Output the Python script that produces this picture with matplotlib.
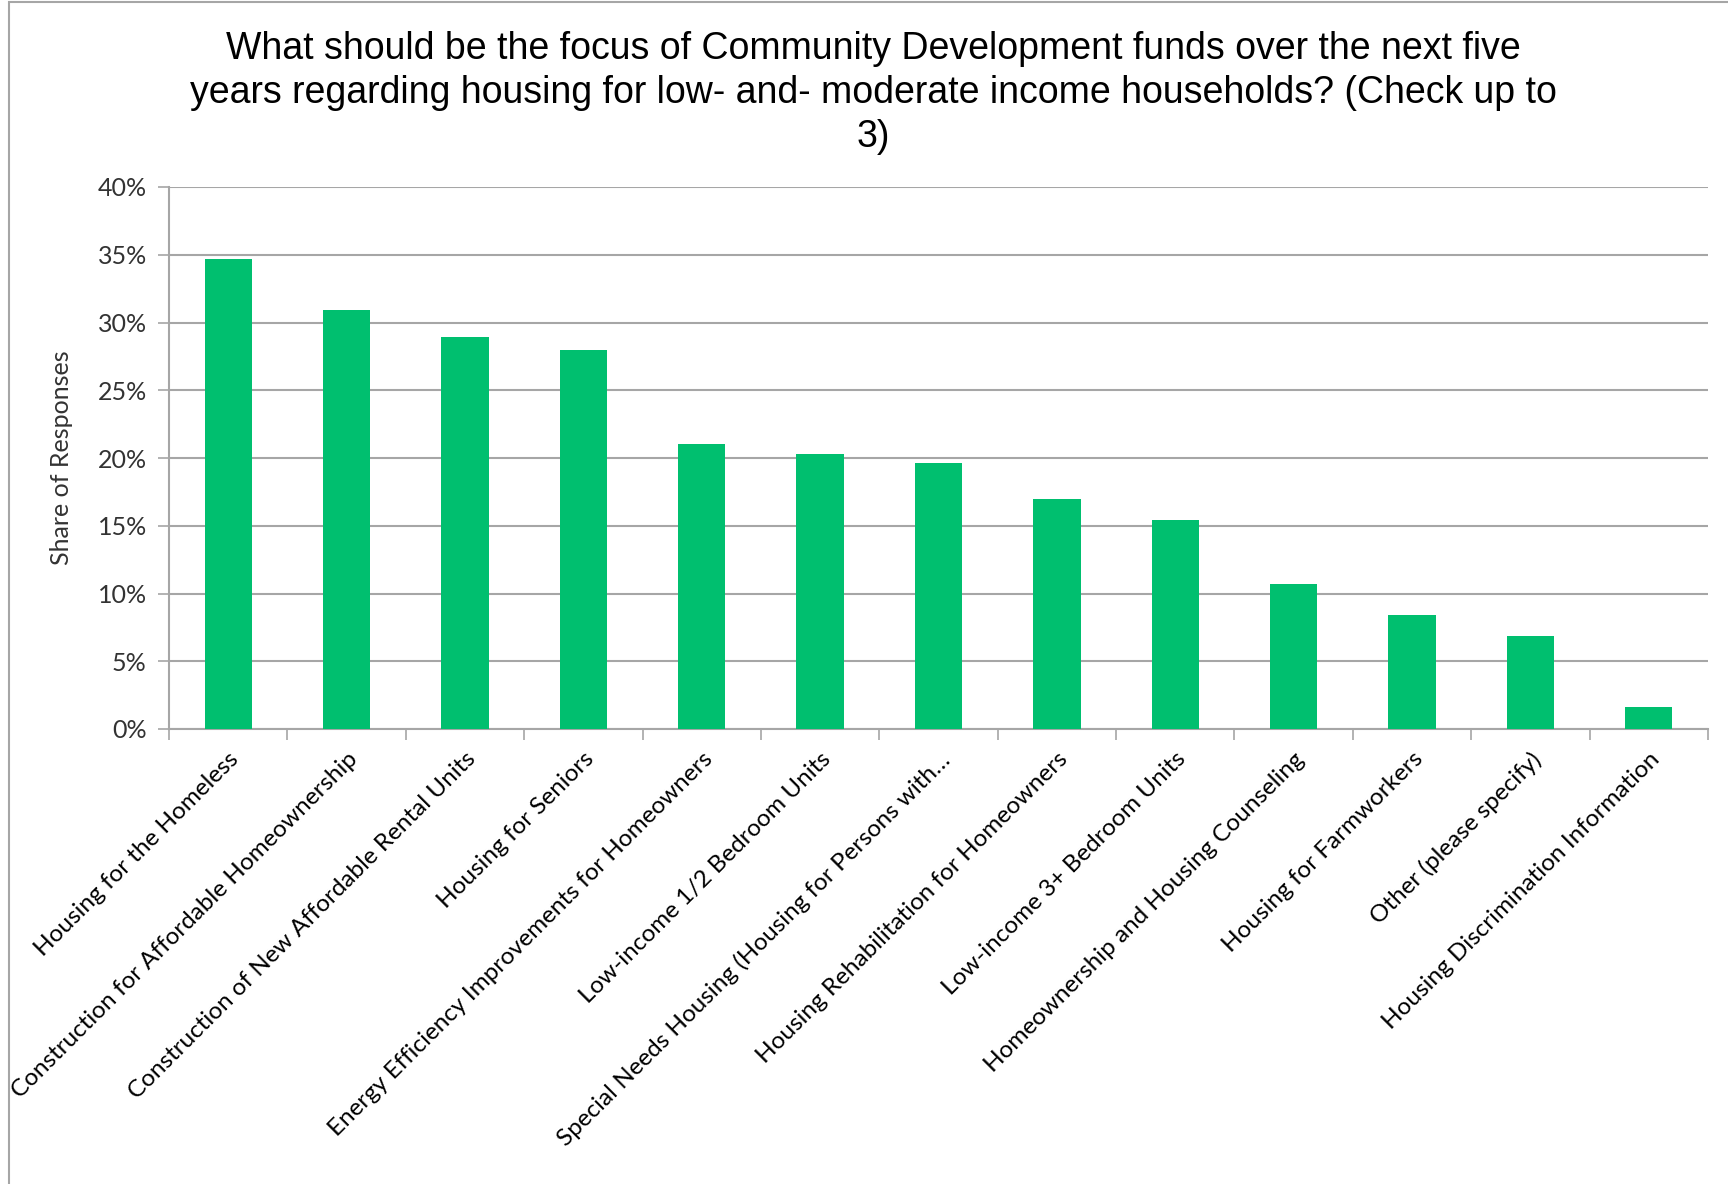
import numpy as np
import matplotlib
matplotlib.use('Agg')
import matplotlib.pyplot as plt
from matplotlib.ticker import PercentFormatter, MultipleLocator, FixedLocator
from matplotlib.patches import Rectangle

# categories and share of responses (%)
categories = [
    "Housing for the Homeless",
    "Construction for Affordable Homeownership",
    "Construction of New Affordable Rental Units",
    "Housing for Seniors",
    "Energy Efficiency Improvements for Homeowners",
    "Low-income 1/2 Bedroom Units",
    "Special Needs Housing (Housing for Persons with\u2026",
    "Housing Rehabilitation for Homeowners",
    "Low-income 3+ Bedroom Units",
    "Homeownership and Housing Counseling",
    "Housing for Farmworkers",
    "Other (please specify)",
    "Housing Discrimination Information",
]
shares = [34.7, 30.9, 28.9, 28.0, 21.0, 20.3, 19.6, 17.0, 15.4, 10.7, 8.4, 6.9, 1.6]

title = ("What should be the focus of Community Development funds over the next five\n"
         "years regarding housing for low- and- moderate income households? (Check up to\n"
         "3)")

W, H = 1728, 1184
fig = plt.figure(figsize=(W / 100, H / 100), dpi=100)
ax = fig.add_axes([169 / W, 1 - 729 / H, (1708 - 169) / W, (729 - 187) / H])

x = np.arange(len(categories))
ax.bar(x, shares, width=0.4, color='#00BF6F', zorder=3)

ax.set_xlim(-0.5, len(categories) - 0.5)
ax.set_ylim(0, 40)
ax.yaxis.set_major_locator(MultipleLocator(5))
ax.yaxis.set_major_formatter(PercentFormatter(decimals=0))
ax.grid(axis='y', color='#A6A6A6', linewidth=1.5, zorder=0)

# tick marks sit between categories, labels at bar centres
ax.xaxis.set_major_locator(FixedLocator(np.arange(len(categories) + 1) - 0.5))
ax.xaxis.set_major_formatter(plt.NullFormatter())
ax.xaxis.set_minor_locator(FixedLocator(x))
ax.set_xticklabels(categories, minor=True, rotation=45, ha='right',
                   rotation_mode='anchor', fontsize=17.5, family='Lato')
ax.tick_params(axis='x', which='major', length=8, width=1.2, color='#A6A6A6')
ax.tick_params(axis='x', which='minor', length=0, pad=14)
ax.tick_params(axis='y', length=8, width=1.2, color='#A6A6A6', labelsize=18,
               pad=8)
for lab in ax.get_yticklabels():
    lab.set_family('Lato')
    lab.set_color('#333333')

for side in ['top', 'right']:
    ax.spines[side].set_visible(False)
for side in ['left', 'bottom']:
    ax.spines[side].set_color('#A6A6A6')
    ax.spines[side].set_linewidth(1.5)

ax.set_ylabel('Share of Responses', fontsize=18, family='Lato', color='#333333',
              labelpad=18)

fig.text(873 / W, 1 - 31 / H, title, ha='center', va='top', fontsize=27,
         family='Liberation Sans', linespacing=1.28)

# chart area border
fig.patches.append(Rectangle((9 / W, -0.1), 1.2, 1.1 - 1.5 / H, transform=fig.transFigure,
                             fill=False, edgecolor='#A6A6A6', linewidth=1.5))

fig.savefig('out.png', dpi=100)
